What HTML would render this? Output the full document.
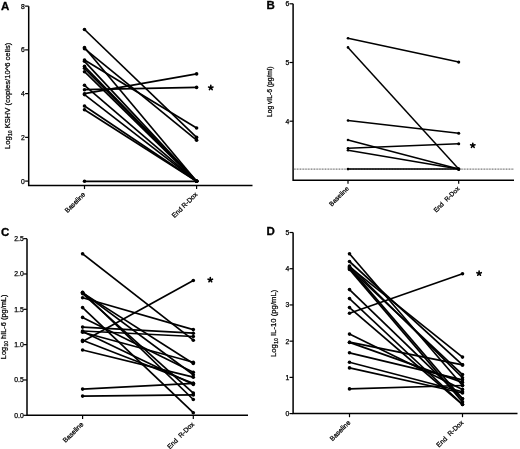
<!DOCTYPE html>
<html><head><meta charset="utf-8"><style>
html,body{margin:0;padding:0;background:#fff;}
body{width:520px;height:449px;overflow:hidden;}
svg{display:block;font-family:"Liberation Sans", sans-serif;will-change:transform;}
.t{stroke:#000;stroke-width:0.25;}
</style></head><body>
<svg width="520" height="449" viewBox="0 0 520 449" fill="#000">
<rect width="520" height="449" fill="#fff"/>
<text x="1" y="9.5" font-size="11.5" font-weight="bold" stroke="#000" stroke-width="0.3">A</text>
<path d="M28.7 6.14V185.45H252.5" fill="none" stroke="#000" stroke-width="1.5"/>
<path d="M25.1 181.1H28.7" stroke="#000" stroke-width="1.2"/>
<text x="24.8" y="183.6" font-size="6.8" text-anchor="end" class="t">0</text>
<path d="M25.1 137.36H28.7" stroke="#000" stroke-width="1.2"/>
<text x="24.8" y="139.86" font-size="6.8" text-anchor="end" class="t">2</text>
<path d="M25.1 93.62H28.7" stroke="#000" stroke-width="1.2"/>
<text x="24.8" y="96.12" font-size="6.8" text-anchor="end" class="t">4</text>
<path d="M25.1 49.88H28.7" stroke="#000" stroke-width="1.2"/>
<text x="24.8" y="52.38" font-size="6.8" text-anchor="end" class="t">6</text>
<path d="M25.1 6.14H28.7" stroke="#000" stroke-width="1.2"/>
<text x="24.8" y="8.64" font-size="6.8" text-anchor="end" class="t">8</text>
<path d="M84.5 185.45V189.05" stroke="#000" stroke-width="1.2"/>
<text x="85.8" y="194.95" font-size="6.75" text-anchor="end" class="t" transform="rotate(-45 85.8 194.95)">Baseline</text>
<path d="M196.6 185.45V189.05" stroke="#000" stroke-width="1.2"/>
<text x="197.9" y="194.95" font-size="6.75" text-anchor="end" class="t" transform="rotate(-45 197.9 194.95)">End R-Dox</text>
<path d="M84.5 29.5L196.6 137.4" stroke="#000" stroke-width="1.7"/>
<path d="M84.5 47.5L196.6 181.3" stroke="#000" stroke-width="1.7"/>
<path d="M84.5 48.7L196.6 140.2" stroke="#000" stroke-width="1.7"/>
<path d="M84.5 60L196.6 128" stroke="#000" stroke-width="1.7"/>
<path d="M84.5 61.3L196.6 181.3" stroke="#000" stroke-width="1.7"/>
<path d="M84.5 66.3L196.6 181.3" stroke="#000" stroke-width="1.7"/>
<path d="M84.5 68.3L196.6 181.3" stroke="#000" stroke-width="1.7"/>
<path d="M84.5 71.7L196.6 181.3" stroke="#000" stroke-width="1.7"/>
<path d="M84.5 85.3L196.6 181.3" stroke="#000" stroke-width="1.7"/>
<path d="M84.5 89.7L196.6 87.4" stroke="#000" stroke-width="1.7"/>
<path d="M84.5 93.7L196.6 73.9" stroke="#000" stroke-width="1.7"/>
<path d="M84.5 106L196.6 181.3" stroke="#000" stroke-width="1.7"/>
<path d="M84.5 94.6L196.6 181.3" stroke="#000" stroke-width="1.7"/>
<path d="M84.5 109.8L196.6 181.3" stroke="#000" stroke-width="1.7"/>
<path d="M84.5 181.3L196.6 181.3" stroke="#000" stroke-width="1.7"/>
<circle cx="84.5" cy="29.5" r="1.8"/>
<circle cx="196.6" cy="137.4" r="1.8"/>
<circle cx="84.5" cy="47.5" r="1.8"/>
<circle cx="196.6" cy="181.3" r="1.8"/>
<circle cx="84.5" cy="48.7" r="1.8"/>
<circle cx="196.6" cy="140.2" r="1.8"/>
<circle cx="84.5" cy="60" r="1.8"/>
<circle cx="196.6" cy="128" r="1.8"/>
<circle cx="84.5" cy="61.3" r="1.8"/>
<circle cx="196.6" cy="181.3" r="1.8"/>
<circle cx="84.5" cy="66.3" r="1.8"/>
<circle cx="196.6" cy="181.3" r="1.8"/>
<circle cx="84.5" cy="68.3" r="1.8"/>
<circle cx="196.6" cy="181.3" r="1.8"/>
<circle cx="84.5" cy="71.7" r="1.8"/>
<circle cx="196.6" cy="181.3" r="1.8"/>
<circle cx="84.5" cy="85.3" r="1.8"/>
<circle cx="196.6" cy="181.3" r="1.8"/>
<circle cx="84.5" cy="89.7" r="1.8"/>
<circle cx="196.6" cy="87.4" r="1.8"/>
<circle cx="84.5" cy="93.7" r="1.8"/>
<circle cx="196.6" cy="73.9" r="1.8"/>
<circle cx="84.5" cy="106" r="1.8"/>
<circle cx="196.6" cy="181.3" r="1.8"/>
<circle cx="84.5" cy="94.6" r="1.8"/>
<circle cx="196.6" cy="181.3" r="1.8"/>
<circle cx="84.5" cy="109.8" r="1.8"/>
<circle cx="196.6" cy="181.3" r="1.8"/>
<circle cx="84.5" cy="181.3" r="1.8"/>
<circle cx="196.6" cy="181.3" r="1.8"/>
<path d="M210.8 87.7l0 -2.3M210.8 87.7l2.19 -0.71M210.8 87.7l1.35 1.86M210.8 87.7l-1.35 1.86M210.8 87.7l-2.19 -0.71" stroke="#000" stroke-width="1.6" stroke-linecap="round" fill="none"/>
<text transform="translate(10 95.85) rotate(-90)" font-size="7.62" text-anchor="middle" class="t">Log<tspan font-size="5" dx="0.3" dy="2.1">10</tspan><tspan dy="-2.1"> KSHV (copies/10^6 cells)</tspan></text>
<text x="266.6" y="9.3" font-size="11.5" font-weight="bold" stroke="#000" stroke-width="0.3">B</text>
<path d="M293.1 3.8V180.25H514" fill="none" stroke="#000" stroke-width="1.5"/>
<path d="M289.5 3.8H293.1" stroke="#000" stroke-width="1.2"/>
<text x="289.2" y="6.3" font-size="6.8" text-anchor="end" class="t">6</text>
<path d="M289.5 62.5H293.1" stroke="#000" stroke-width="1.2"/>
<text x="289.2" y="65" font-size="6.8" text-anchor="end" class="t">5</text>
<path d="M289.5 121.2H293.1" stroke="#000" stroke-width="1.2"/>
<text x="289.2" y="123.7" font-size="6.8" text-anchor="end" class="t">4</text>
<path d="M348 180.25V183.85" stroke="#000" stroke-width="1.2"/>
<text x="349.3" y="189.05" font-size="6.5" text-anchor="end" class="t" transform="rotate(-45 349.3 189.05)">Baseline</text>
<path d="M458.7 180.25V183.85" stroke="#000" stroke-width="1.2"/>
<text x="460" y="189.05" font-size="6.5" text-anchor="end" class="t" transform="rotate(-45 460 189.05)">End&#160;&#160;R-Dox</text>
<path d="M293.85 169.1H514" stroke="#6a6a6a" stroke-width="1.2" stroke-dasharray="0.9 0.66"/>
<path d="M348 38.2L458.7 62.1" stroke="#000" stroke-width="1.5"/>
<path d="M348 47.4L458.7 169.1" stroke="#000" stroke-width="1.5"/>
<path d="M348 120.5L458.7 133.3" stroke="#000" stroke-width="1.5"/>
<path d="M348 140L458.7 169.1" stroke="#000" stroke-width="1.5"/>
<path d="M348 148.3L458.7 143.8" stroke="#000" stroke-width="1.5"/>
<path d="M348 150.2L458.7 169.1" stroke="#000" stroke-width="1.5"/>
<path d="M348 169.1L458.7 169.1" stroke="#000" stroke-width="1.5"/>
<circle cx="348" cy="38.2" r="1.3"/>
<circle cx="458.7" cy="62.1" r="1.55"/>
<circle cx="348" cy="47.4" r="1.3"/>
<circle cx="458.7" cy="169.1" r="1.55"/>
<circle cx="348" cy="120.5" r="1.3"/>
<circle cx="458.7" cy="133.3" r="1.55"/>
<circle cx="348" cy="140" r="1.3"/>
<circle cx="458.7" cy="169.1" r="1.55"/>
<circle cx="348" cy="148.3" r="1.3"/>
<circle cx="458.7" cy="143.8" r="1.55"/>
<circle cx="348" cy="150.2" r="1.3"/>
<circle cx="458.7" cy="169.1" r="1.55"/>
<circle cx="348" cy="169.1" r="1.3"/>
<circle cx="458.7" cy="169.1" r="1.55"/>
<path d="M472.8 145.5l0 -2.3M472.8 145.5l2.19 -0.71M472.8 145.5l1.35 1.86M472.8 145.5l-1.35 1.86M472.8 145.5l-2.19 -0.71" stroke="#000" stroke-width="1.6" stroke-linecap="round" fill="none"/>
<text transform="translate(271.9 91.75) rotate(-90)" font-size="6.7" text-anchor="middle" class="t">Log vIL-6 (pg/ml)</text>
<text x="1" y="235.9" font-size="11.5" font-weight="bold" stroke="#000" stroke-width="0.3">C</text>
<path d="M27 238.65V415.3H248" fill="none" stroke="#000" stroke-width="1.5"/>
<path d="M23.4 415.3H27" stroke="#000" stroke-width="1.2"/>
<text x="23.7" y="417.8" font-size="6.8" text-anchor="end" class="t">0.0</text>
<path d="M23.4 379.97H27" stroke="#000" stroke-width="1.2"/>
<text x="23.7" y="382.47" font-size="6.8" text-anchor="end" class="t">0.5</text>
<path d="M23.4 344.64H27" stroke="#000" stroke-width="1.2"/>
<text x="23.7" y="347.14" font-size="6.8" text-anchor="end" class="t">1.0</text>
<path d="M23.4 309.31H27" stroke="#000" stroke-width="1.2"/>
<text x="23.7" y="311.81" font-size="6.8" text-anchor="end" class="t">1.5</text>
<path d="M23.4 273.98H27" stroke="#000" stroke-width="1.2"/>
<text x="23.7" y="276.48" font-size="6.8" text-anchor="end" class="t">2.0</text>
<path d="M23.4 238.65H27" stroke="#000" stroke-width="1.2"/>
<text x="23.7" y="241.15" font-size="6.8" text-anchor="end" class="t">2.5</text>
<path d="M82.6 415.3V418.9" stroke="#000" stroke-width="1.2"/>
<text x="83.9" y="424.8" font-size="6.75" text-anchor="end" class="t" transform="rotate(-45 83.9 424.8)">Baseline</text>
<path d="M193.3 415.3V418.9" stroke="#000" stroke-width="1.2"/>
<text x="194.6" y="424.8" font-size="6.75" text-anchor="end" class="t" transform="rotate(-45 194.6 424.8)">End&#160;&#160;R-Dox</text>
<path d="M82.6 253.8L193.3 340.2" stroke="#000" stroke-width="1.7"/>
<path d="M82.6 292.3L193.3 399.5" stroke="#000" stroke-width="1.7"/>
<path d="M82.6 292.9L193.3 363.5" stroke="#000" stroke-width="1.7"/>
<path d="M82.6 292.6L193.3 374.7" stroke="#000" stroke-width="1.7"/>
<path d="M82.6 293.6L193.3 393.1" stroke="#000" stroke-width="1.7"/>
<path d="M82.6 297.8L193.3 329.6" stroke="#000" stroke-width="1.7"/>
<path d="M82.6 307.6L193.3 412.7" stroke="#000" stroke-width="1.7"/>
<path d="M82.6 317.4L193.3 372.3" stroke="#000" stroke-width="1.7"/>
<path d="M82.6 327.1L193.3 333.2" stroke="#000" stroke-width="1.7"/>
<path d="M82.6 331L193.3 336.5" stroke="#000" stroke-width="1.7"/>
<path d="M82.6 331.6L193.3 384.5" stroke="#000" stroke-width="1.7"/>
<path d="M82.6 332.2L193.3 362.3" stroke="#000" stroke-width="1.7"/>
<path d="M82.6 340.2L193.3 383.3" stroke="#000" stroke-width="1.7"/>
<path d="M82.6 341.4L193.3 280.5" stroke="#000" stroke-width="1.7"/>
<path d="M82.6 350L193.3 377.2" stroke="#000" stroke-width="1.7"/>
<path d="M82.6 389.1L193.3 383.3" stroke="#000" stroke-width="1.7"/>
<path d="M82.6 396.1L193.3 394.9" stroke="#000" stroke-width="1.7"/>
<circle cx="82.6" cy="253.8" r="1.8"/>
<circle cx="193.3" cy="340.2" r="1.8"/>
<circle cx="82.6" cy="292.3" r="1.8"/>
<circle cx="193.3" cy="399.5" r="1.8"/>
<circle cx="82.6" cy="292.9" r="1.8"/>
<circle cx="193.3" cy="363.5" r="1.8"/>
<circle cx="82.6" cy="292.6" r="1.8"/>
<circle cx="193.3" cy="374.7" r="1.8"/>
<circle cx="82.6" cy="293.6" r="1.8"/>
<circle cx="193.3" cy="393.1" r="1.8"/>
<circle cx="82.6" cy="297.8" r="1.8"/>
<circle cx="193.3" cy="329.6" r="1.8"/>
<circle cx="82.6" cy="307.6" r="1.8"/>
<circle cx="193.3" cy="412.7" r="1.8"/>
<circle cx="82.6" cy="317.4" r="1.8"/>
<circle cx="193.3" cy="372.3" r="1.8"/>
<circle cx="82.6" cy="327.1" r="1.8"/>
<circle cx="193.3" cy="333.2" r="1.8"/>
<circle cx="82.6" cy="331" r="1.8"/>
<circle cx="193.3" cy="336.5" r="1.8"/>
<circle cx="82.6" cy="331.6" r="1.8"/>
<circle cx="193.3" cy="384.5" r="1.8"/>
<circle cx="82.6" cy="332.2" r="1.8"/>
<circle cx="193.3" cy="362.3" r="1.8"/>
<circle cx="82.6" cy="340.2" r="1.8"/>
<circle cx="193.3" cy="383.3" r="1.8"/>
<circle cx="82.6" cy="341.4" r="1.8"/>
<circle cx="193.3" cy="280.5" r="1.8"/>
<circle cx="82.6" cy="350" r="1.8"/>
<circle cx="193.3" cy="377.2" r="1.8"/>
<circle cx="82.6" cy="389.1" r="1.8"/>
<circle cx="193.3" cy="383.3" r="1.8"/>
<circle cx="82.6" cy="396.1" r="1.8"/>
<circle cx="193.3" cy="394.9" r="1.8"/>
<path d="M210.3 279.9l0 -2.3M210.3 279.9l2.19 -0.71M210.3 279.9l1.35 1.86M210.3 279.9l-1.35 1.86M210.3 279.9l-2.19 -0.71" stroke="#000" stroke-width="1.6" stroke-linecap="round" fill="none"/>
<text transform="translate(5.9 326.9) rotate(-90)" font-size="7.4" text-anchor="middle" class="t">Log<tspan font-size="5" dx="0.3" dy="2.1">10</tspan><tspan dy="-2.1"> hIL-6 (pg/mL)</tspan></text>
<text x="266.6" y="235.3" font-size="11.5" font-weight="bold" stroke="#000" stroke-width="0.3">D</text>
<path d="M293.1 232.5V413.6H517.5" fill="none" stroke="#000" stroke-width="1.5"/>
<path d="M289.5 413.6H293.1" stroke="#000" stroke-width="1.2"/>
<text x="289.2" y="416.1" font-size="6.8" text-anchor="end" class="t">0</text>
<path d="M289.5 377.38H293.1" stroke="#000" stroke-width="1.2"/>
<text x="289.2" y="379.88" font-size="6.8" text-anchor="end" class="t">1</text>
<path d="M289.5 341.16H293.1" stroke="#000" stroke-width="1.2"/>
<text x="289.2" y="343.66" font-size="6.8" text-anchor="end" class="t">2</text>
<path d="M289.5 304.94H293.1" stroke="#000" stroke-width="1.2"/>
<text x="289.2" y="307.44" font-size="6.8" text-anchor="end" class="t">3</text>
<path d="M289.5 268.72H293.1" stroke="#000" stroke-width="1.2"/>
<text x="289.2" y="271.22" font-size="6.8" text-anchor="end" class="t">4</text>
<path d="M289.5 232.5H293.1" stroke="#000" stroke-width="1.2"/>
<text x="289.2" y="235" font-size="6.8" text-anchor="end" class="t">5</text>
<path d="M349.5 413.6V417.2" stroke="#000" stroke-width="1.2"/>
<text x="350.8" y="423.1" font-size="6.75" text-anchor="end" class="t" transform="rotate(-45 350.8 423.1)">Baseline</text>
<path d="M462.5 413.6V417.2" stroke="#000" stroke-width="1.2"/>
<text x="463.8" y="423.1" font-size="6.75" text-anchor="end" class="t" transform="rotate(-45 463.8 423.1)">End&#160;&#160;R-Dox</text>
<path d="M349.5 253.8L462.5 385.5" stroke="#000" stroke-width="1.7"/>
<path d="M349.5 261.5L462.5 364.9" stroke="#000" stroke-width="1.7"/>
<path d="M349.5 266L462.5 377.7" stroke="#000" stroke-width="1.7"/>
<path d="M349.5 266.8L462.5 357.1" stroke="#000" stroke-width="1.7"/>
<path d="M349.5 267.6L462.5 398.7" stroke="#000" stroke-width="1.7"/>
<path d="M349.5 268.5L462.5 374.6" stroke="#000" stroke-width="1.7"/>
<path d="M349.5 269.4L462.5 401.9" stroke="#000" stroke-width="1.7"/>
<path d="M349.5 289.6L462.5 398.7" stroke="#000" stroke-width="1.7"/>
<path d="M349.5 298.6L462.5 404.5" stroke="#000" stroke-width="1.7"/>
<path d="M349.5 307.6L462.5 404.5" stroke="#000" stroke-width="1.7"/>
<path d="M349.5 313.3L462.5 273.7" stroke="#000" stroke-width="1.7"/>
<path d="M349.5 334.1L462.5 389.4" stroke="#000" stroke-width="1.7"/>
<path d="M349.5 342.2L462.5 364.9" stroke="#000" stroke-width="1.7"/>
<path d="M349.5 342.4L462.5 382.4" stroke="#000" stroke-width="1.7"/>
<path d="M349.5 352.8L462.5 379.8" stroke="#000" stroke-width="1.7"/>
<path d="M349.5 362.2L462.5 391.7" stroke="#000" stroke-width="1.7"/>
<path d="M349.5 367.9L462.5 393" stroke="#000" stroke-width="1.7"/>
<path d="M349.5 388.9L462.5 385.5" stroke="#000" stroke-width="1.7"/>
<circle cx="349.5" cy="253.8" r="1.8"/>
<circle cx="462.5" cy="385.5" r="1.8"/>
<circle cx="349.5" cy="261.5" r="1.8"/>
<circle cx="462.5" cy="364.9" r="1.8"/>
<circle cx="349.5" cy="266" r="1.8"/>
<circle cx="462.5" cy="377.7" r="1.8"/>
<circle cx="349.5" cy="266.8" r="1.8"/>
<circle cx="462.5" cy="357.1" r="1.8"/>
<circle cx="349.5" cy="267.6" r="1.8"/>
<circle cx="462.5" cy="398.7" r="1.8"/>
<circle cx="349.5" cy="268.5" r="1.8"/>
<circle cx="462.5" cy="374.6" r="1.8"/>
<circle cx="349.5" cy="269.4" r="1.8"/>
<circle cx="462.5" cy="401.9" r="1.8"/>
<circle cx="349.5" cy="289.6" r="1.8"/>
<circle cx="462.5" cy="398.7" r="1.8"/>
<circle cx="349.5" cy="298.6" r="1.8"/>
<circle cx="462.5" cy="404.5" r="1.8"/>
<circle cx="349.5" cy="307.6" r="1.8"/>
<circle cx="462.5" cy="404.5" r="1.8"/>
<circle cx="349.5" cy="313.3" r="1.8"/>
<circle cx="462.5" cy="273.7" r="1.8"/>
<circle cx="349.5" cy="334.1" r="1.8"/>
<circle cx="462.5" cy="389.4" r="1.8"/>
<circle cx="349.5" cy="342.2" r="1.8"/>
<circle cx="462.5" cy="364.9" r="1.8"/>
<circle cx="349.5" cy="342.4" r="1.8"/>
<circle cx="462.5" cy="382.4" r="1.8"/>
<circle cx="349.5" cy="352.8" r="1.8"/>
<circle cx="462.5" cy="379.8" r="1.8"/>
<circle cx="349.5" cy="362.2" r="1.8"/>
<circle cx="462.5" cy="391.7" r="1.8"/>
<circle cx="349.5" cy="367.9" r="1.8"/>
<circle cx="462.5" cy="393" r="1.8"/>
<circle cx="349.5" cy="388.9" r="1.8"/>
<circle cx="462.5" cy="385.5" r="1.8"/>
<path d="M479.1 273.4l0 -2.3M479.1 273.4l2.19 -0.71M479.1 273.4l1.35 1.86M479.1 273.4l-1.35 1.86M479.1 273.4l-2.19 -0.71" stroke="#000" stroke-width="1.6" stroke-linecap="round" fill="none"/>
<text transform="translate(276 323.3) rotate(-90)" font-size="7.75" text-anchor="middle" class="t">Log<tspan font-size="5" dx="0.3" dy="2.1">10</tspan><tspan dy="-2.1"> IL-10 (pg/mL)</tspan></text>
</svg>
</body></html>
